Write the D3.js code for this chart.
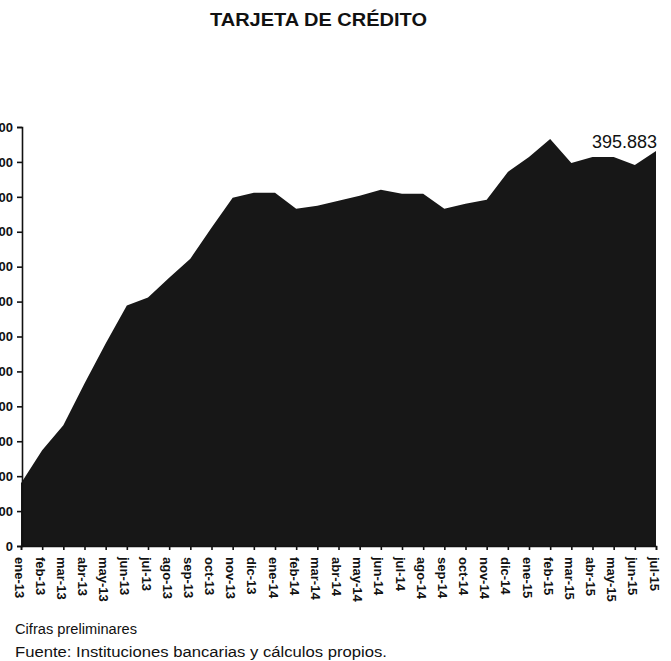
<!DOCTYPE html>
<html>
<head>
<meta charset="utf-8">
<script src="https://cdn.jsdelivr.net/npm/d3@7"></script>
<style>
  html, body { margin: 0; padding: 0; background: #fff; }
  svg { display: block; }
</style>
</head>
<body>
<svg id="chart" width="671" height="661"></svg>
<script>
const months = ["ene-13","feb-13","mar-13","abr-13","may-13","jun-13","jul-13","ago-13","sep-13","oct-13","nov-13","dic-13",
                "ene-14","feb-14","mar-14","abr-14","may-14","jun-14","jul-14","ago-14","sep-14","oct-14","nov-14","dic-14",
                "ene-15","feb-15","mar-15","abr-15","may-15","jun-15","jul-15"];
const values = [63, 96, 121, 163, 203, 241, 249, 269, 288, 319, 349, 354,
                354, 338, 341, 346, 351, 357, 353, 353, 338, 343, 347, 375,
                390, 408, 384, 390, 390, 382, 395.883];
const yTicks = [0, 35, 70, 105, 140, 175, 210, 245, 280, 315, 350, 385, 420];
const title = "TARJETA DE CRÉDITO";
const lastLabel = "395.883";
const notes = ["Cifras preliminares", "Fuente: Instituciones bancarias y cálculos propios."];

const svg = d3.select("#chart");
const font = "'Liberation Sans', Arial, sans-serif";

const x = d3.scalePoint().domain(months).range([21, 656]);
const y = d3.scaleLinear().domain([0, 420]).range([546, 127]);

const data = months.map((m, i) => ({m, v: values[i]}));

// title
svg.append("text")
  .attr("x", 210).attr("y", 26)
  .attr("text-anchor", "start")
  .attr("textLength", 217).attr("lengthAdjust", "spacingAndGlyphs")
  .attr("font-family", font).attr("font-weight", "bold").attr("font-size", 18)
  .attr("fill", "#111")
  .text(title);

// area
const area = d3.area()
  .x(d => x(d.m))
  .y0(y(0))
  .y1(d => y(d.v));
svg.append("path")
  .datum(data)
  .attr("d", area)
  .attr("fill", "#171717");

// y axis
const fmt = d3.formatLocale({decimal: ",", thousands: ".", grouping: [3], currency: ["", ""]}).format(",");
const yAxis = svg.append("g")
  .attr("transform", "translate(22,0)")
  .call(d3.axisLeft(y).tickValues(yTicks).tickSize(5).tickPadding(4).tickFormat(d => fmt(d * 1000)));
yAxis.select(".domain").attr("stroke", "#111").attr("stroke-width", 1.6);
yAxis.selectAll(".tick line").attr("stroke", "#111").attr("stroke-width", 1.6);
yAxis.selectAll(".tick text")
  .attr("font-family", font).attr("font-weight", "bold").attr("font-size", 13).attr("fill", "#111");

// x axis ticks
const xAxis = svg.append("g")
  .attr("transform", `translate(0,${y(0)})`)
  .call(d3.axisBottom(x).tickSize(4).tickFormat(""));
xAxis.select(".domain").attr("stroke", "#111").attr("stroke-width", 1.5);
xAxis.selectAll(".tick line").attr("stroke", "#111").attr("stroke-width", 1.6);

// x labels rotated
svg.append("g").selectAll("text")
  .data(months)
  .join("text")
  .attr("transform", d => `translate(${x(d) - 2},557) rotate(90)`)
  .attr("dominant-baseline", "central")
  .attr("text-anchor", "start")
  .attr("font-family", font).attr("font-weight", "bold").attr("font-size", 13)
  .attr("fill", "#111")
  .text(d => d);

// last value label
const last = data[data.length - 1];
svg.append("text")
  .attr("x", x(last.m) + 1).attr("y", y(last.v) - 3)
  .attr("text-anchor", "end")
  .attr("font-family", font).attr("font-size", 18)
  .attr("fill", "#111")
  .text(lastLabel);

// notes
const noteWidths = [122, 372];
svg.selectAll(".note")
  .data(notes)
  .join("text")
  .attr("class", "note")
  .attr("x", 15)
  .attr("y", (d, i) => 634 + i * 23)
  .attr("textLength", (d, i) => noteWidths[i]).attr("lengthAdjust", "spacingAndGlyphs")
  .attr("font-family", font).attr("font-size", 14)
  .attr("fill", "#111")
  .text(d => d);
</script>
</body>
</html>
